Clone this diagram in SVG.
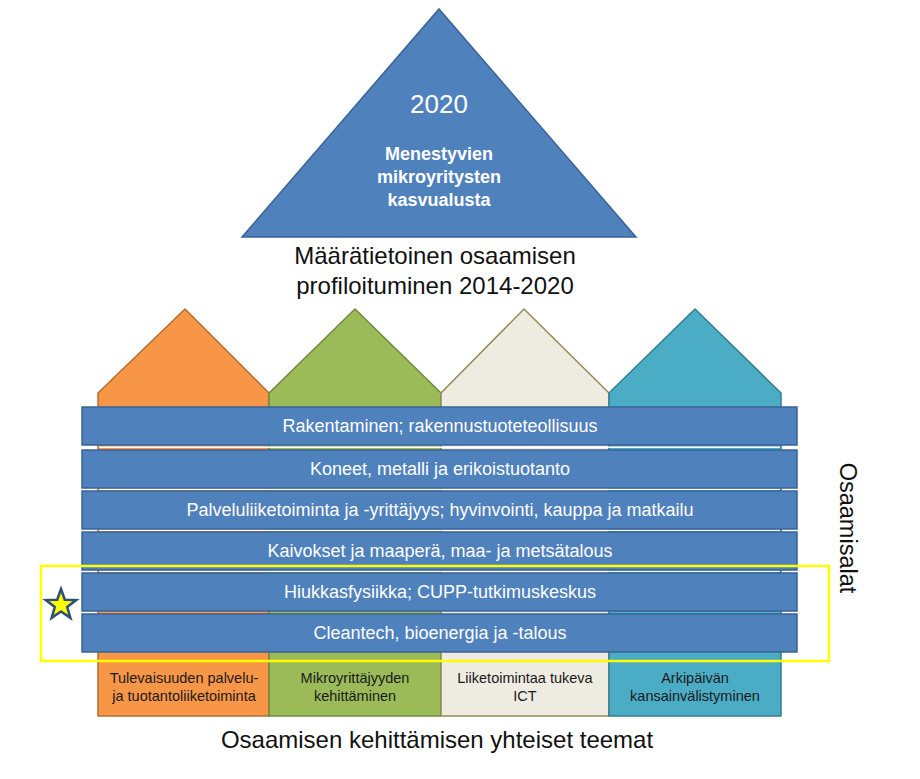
<svg xmlns="http://www.w3.org/2000/svg" width="920" height="779" viewBox="0 0 920 779">
<style>
text{font-family:"Liberation Sans",Arial,sans-serif;}
.bar{fill:#4F81BD;stroke:#3A6396;stroke-width:1.5;}
.bt{fill:#fff;font-size:18px;text-anchor:middle;}
.tt{fill:#1a1a1a;font-size:14.5px;text-anchor:middle;}
.big{fill:#111;font-size:24px;text-anchor:middle;}
</style>
<rect width="920" height="779" fill="#fff"/>
<g id="goal">
<polygon points="439,9 636,237 242,237" fill="#4F81BD" stroke="#3A6396" stroke-width="1.5"/>
<text x="439" y="113" fill="#fff" font-size="26" text-anchor="middle">2020</text>
<text x="439" y="160" fill="#fff" font-size="18" font-weight="bold" text-anchor="middle">Menestyvien</text>
<text x="439" y="183" fill="#fff" font-size="18" font-weight="bold" text-anchor="middle">mikroyritysten</text>
<text x="439" y="206" fill="#fff" font-size="18" font-weight="bold" text-anchor="middle">kasvualusta</text>
</g>
<g id="profile-title">
<text class="big" x="435" y="264">Määrätietoinen osaamisen</text>
<text class="big" x="435" y="294">profiloituminen 2014-2020</text>
</g>
<g id="house-orange">
<path d="M98,393 L185,309 L269,393 L269,716 L98,716 Z" fill="#F79646" stroke="#B66D31" stroke-width="1.5" stroke-linejoin="round"/>
</g>
<g id="house-green">
<path d="M269,393 L355,309 L441,393 L441,716 L269,716 Z" fill="#9BBB59" stroke="#71893F" stroke-width="1.5" stroke-linejoin="round"/>
</g>
<g id="house-beige">
<path d="M441,393 L524,309 L609,393 L609,716 L441,716 Z" fill="#EEECE1" stroke="#948A54" stroke-width="1.5" stroke-linejoin="round"/>
</g>
<g id="house-teal">
<path d="M609,393 L695,309 L781,393 L781,716 L609,716 Z" fill="#4BACC6" stroke="#357D91" stroke-width="1.5" stroke-linejoin="round"/>
</g>
<g id="themes">
<text class="tt" x="184" y="683">Tulevaisuuden palvelu-</text>
<text class="tt" x="184" y="701">ja tuotantoliiketoiminta</text>
<text class="tt" x="355" y="683">Mikroyrittäjyyden</text>
<text class="tt" x="355" y="701">kehittäminen</text>
<text class="tt" x="525" y="683">Liiketoimintaa tukeva</text>
<text class="tt" x="525" y="701">ICT</text>
<text class="tt" x="695" y="683">Arkipäivän</text>
<text class="tt" x="695" y="701">kansainvälistyminen</text>
</g>
<g id="gaps" fill="#fff">
<rect x="99" y="446.5" width="681" height="1.5"/>
<rect x="99" y="488.5" width="681" height="1.5"/>
<rect x="99" y="529.5" width="681" height="1.5"/>
<rect x="99" y="570.5" width="681" height="1.5"/>
</g>
<g id="bar1"><rect class="bar" x="82" y="407" width="715" height="38"/><text class="bt" x="440" y="432">Rakentaminen; rakennustuoteteollisuus</text></g>
<g id="bar2"><rect class="bar" x="82" y="450" width="715" height="38"/><text class="bt" x="440" y="475">Koneet, metalli ja erikoistuotanto</text></g>
<g id="bar3"><rect class="bar" x="82" y="491" width="715" height="38"/><text class="bt" x="440" y="516">Palveluliiketoiminta ja -yrittäjyys; hyvinvointi, kauppa ja matkailu</text></g>
<g id="bar4"><rect class="bar" x="82" y="532" width="715" height="38"/><text class="bt" x="440" y="557">Kaivokset ja maaperä, maa- ja metsätalous</text></g>
<g id="bar5"><rect class="bar" x="82" y="573" width="715" height="38"/><text class="bt" x="440" y="598">Hiukkasfysiikka; CUPP-tutkimuskeskus</text></g>
<g id="bar6"><rect class="bar" x="82" y="614" width="715" height="38"/><text class="bt" x="440" y="639">Cleantech, bioenergia ja -talous</text></g>
<g id="highlight">
<rect x="41" y="566" width="788" height="95" fill="none" stroke="#FFFF00" stroke-width="2.5"/>
<polygon points="61,589 64.8,599.7 76.2,600.1 67.2,607 70.4,617.9 61,611.5 51.6,617.9 54.8,607 45.8,600.1 57.2,599.7" fill="#FFFF00" stroke="#2E4F7A" stroke-width="2.5" stroke-linejoin="miter"/>
</g>
<g id="osaamisalat">
<text x="848" y="528" fill="#111" font-size="23.5" text-anchor="middle" dominant-baseline="central" transform="rotate(90 848 528)">Osaamisalat</text>
</g>
<g id="bottom-title">
<text class="big" x="437" y="748" font-size="23.5">Osaamisen kehittämisen yhteiset teemat</text>
</g>
<g id="connectors"></g>
</svg>
